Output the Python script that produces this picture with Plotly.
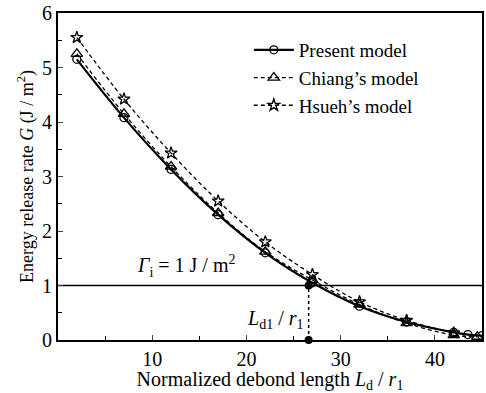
import plotly.graph_objects as go

x_present = [2, 7, 12, 17, 22, 27, 32, 37, 42, 43.5, 45]
g_present = [5.15, 4.08, 3.13, 2.3, 1.6, 1.05, 0.62, 0.33, 0.14, 0.1, 0.08]
x_chiang = [2, 7, 12, 17, 22, 27, 32, 37, 42, 44.5]
g_chiang = [5.25, 4.15, 3.18, 2.33, 1.62, 1.1, 0.65, 0.31, 0.09, 0.06]
x_hsueh = [2, 7, 12, 17, 22, 27, 32, 37, 42]
g_hsueh = [5.55, 4.42, 3.43, 2.55, 1.8, 1.2, 0.7, 0.36, 0.13]
gamma_i = 1.0
ld1 = 26.6

font = "Liberation Serif, Times New Roman, serif"
fig = go.Figure()
fig.add_trace(go.Scatter(x=[0, 45], y=[gamma_i, gamma_i], mode="lines",
                         line=dict(color="black", width=1.5), showlegend=False, hoverinfo="skip"))
fig.add_trace(go.Scatter(x=[ld1, ld1], y=[0, gamma_i], mode="lines+markers",
                         line=dict(color="black", width=1.5, dash="dot"),
                         marker=dict(symbol="circle", size=8, color="black"),
                         showlegend=False, cliponaxis=False))
fig.add_trace(go.Scatter(x=x_present, y=g_present, mode="lines+markers", name="Present model",
                         line=dict(color="black", width=2.2, shape="spline"),
                         marker=dict(symbol="circle-open", size=8, color="black", line=dict(width=1.3))))
fig.add_trace(go.Scatter(x=x_chiang, y=g_chiang, mode="lines+markers", name="Chiang\u2019s model",
                         line=dict(color="black", width=1.3, dash="4px,3px", shape="spline"),
                         marker=dict(symbol="triangle-up-open", size=10, color="black", line=dict(width=1.3))))
fig.add_trace(go.Scatter(x=x_hsueh, y=g_hsueh, mode="lines+markers", name="Hsueh\u2019s model",
                         line=dict(color="black", width=1.3, dash="4px,3px", shape="spline"),
                         marker=dict(symbol="star-open", size=9, color="black", line=dict(width=1.3))))

fig.add_annotation(x=8.2, y=1.35, xref="x", yref="y", xanchor="left", showarrow=False,
                   text="<i>\u0393</i><sub>i</sub> = 1 J / m<sup>2</sup>", font=dict(family=font, size=20, color="black"))
fig.add_annotation(x=26.2, y=0.38, xref="x", yref="y", xanchor="right", showarrow=False,
                   text="<i>L</i><sub>d1</sub> / <i>r</i><sub>1</sub>", font=dict(family=font, size=20, color="black"))

fig.update_layout(
    width=486, height=393, margin=dict(l=58, r=2, t=13, b=53),
    paper_bgcolor="white", plot_bgcolor="white",
    font=dict(family=font, size=18, color="black"),
    legend=dict(x=0.45, y=0.945, xanchor="left", yanchor="top", bgcolor="rgba(0,0,0,0)",
                font=dict(family=font, size=19), tracegroupgap=0, itemwidth=40),
    xaxis=dict(range=[0, 45], tickvals=[10, 20, 30, 40], ticks="inside", ticklen=5,
               showline=True, linecolor="black", linewidth=2, mirror=True, showgrid=False, zeroline=False,
               minor=dict(tickvals=[5, 15, 25, 35], ticks="inside", ticklen=4, tickcolor="black"),
               tickfont=dict(size=20),
               title=dict(text="Normalized debond length <i>L</i><sub>d</sub> / <i>r</i><sub>1</sub>",
                          font=dict(size=20), standoff=3)),
    yaxis=dict(range=[0, 6], tickvals=[0, 1, 2, 3, 4, 5, 6], ticks="inside", ticklen=5,
               showline=True, linecolor="black", linewidth=2, mirror=True, showgrid=False, zeroline=False,
               minor=dict(tickvals=[0.5, 1.5, 2.5, 3.5, 4.5, 5.5], ticks="inside", ticklen=4, tickcolor="black"),
               tickfont=dict(size=20),
               title=dict(text="Energy release rate <i>G</i> (J / m<sup>2</sup>)", font=dict(size=18), standoff=4)),
)
fig.write_html("out.html")
